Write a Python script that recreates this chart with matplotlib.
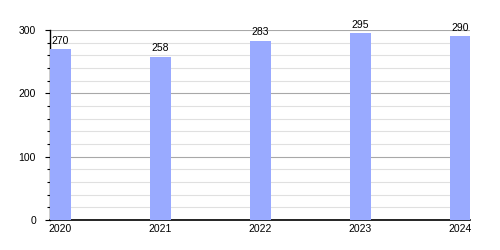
import matplotlib
matplotlib.use("Agg")
import matplotlib.pyplot as plt
import numpy as np

categories = ["2020", "2021", "2022", "2023", "2024"]
values = [270, 258, 283, 295, 290]

plt.rcParams['font.family'] = ['Liberation Sans', 'DejaVu Sans']

fig = plt.figure(figsize=(5, 2.5), dpi=100)
ax = fig.add_axes([0.1, 0.12, 0.84, 0.76])

x = np.arange(len(categories))
w = 0.21
ax.bar(x, values, width=w, align='edge', color='#99aaff', zorder=3)

ax.set_xlim(0, 4.2)
ax.set_ylim(0, 300)

ax.set_yticks([0, 100, 200, 300])
ax.set_yticks(np.arange(0, 301, 20), minor=True)
ax.grid(axis='y', which='minor', color='#e0e0e0', linewidth=0.8, zorder=0)
ax.grid(axis='y', which='major', color='#a8a8a8', linewidth=0.8, zorder=1)

ax.set_xticks(x + w / 2)
ax.set_xticklabels(categories)
ax.tick_params(axis='x', length=0, pad=3, labelsize=7.5)
ax.tick_params(axis='y', which='major', length=3.6, width=0.8, labelsize=7.5, pad=6.5)
ax.tick_params(axis='y', which='minor', length=2.2, width=0.8)

for s in ['top', 'right']:
    ax.spines[s].set_visible(False)
ax.spines['left'].set_linewidth(1.0)
ax.spines['bottom'].set_linewidth(1.2)

for xi, v in zip(x, values):
    ax.annotate(str(v), (xi + w / 2, v), xytext=(0, 2.5), textcoords='offset points',
                ha='center', va='bottom', fontsize=7.5, clip_on=False)

fig.savefig("out.png", dpi=100)
